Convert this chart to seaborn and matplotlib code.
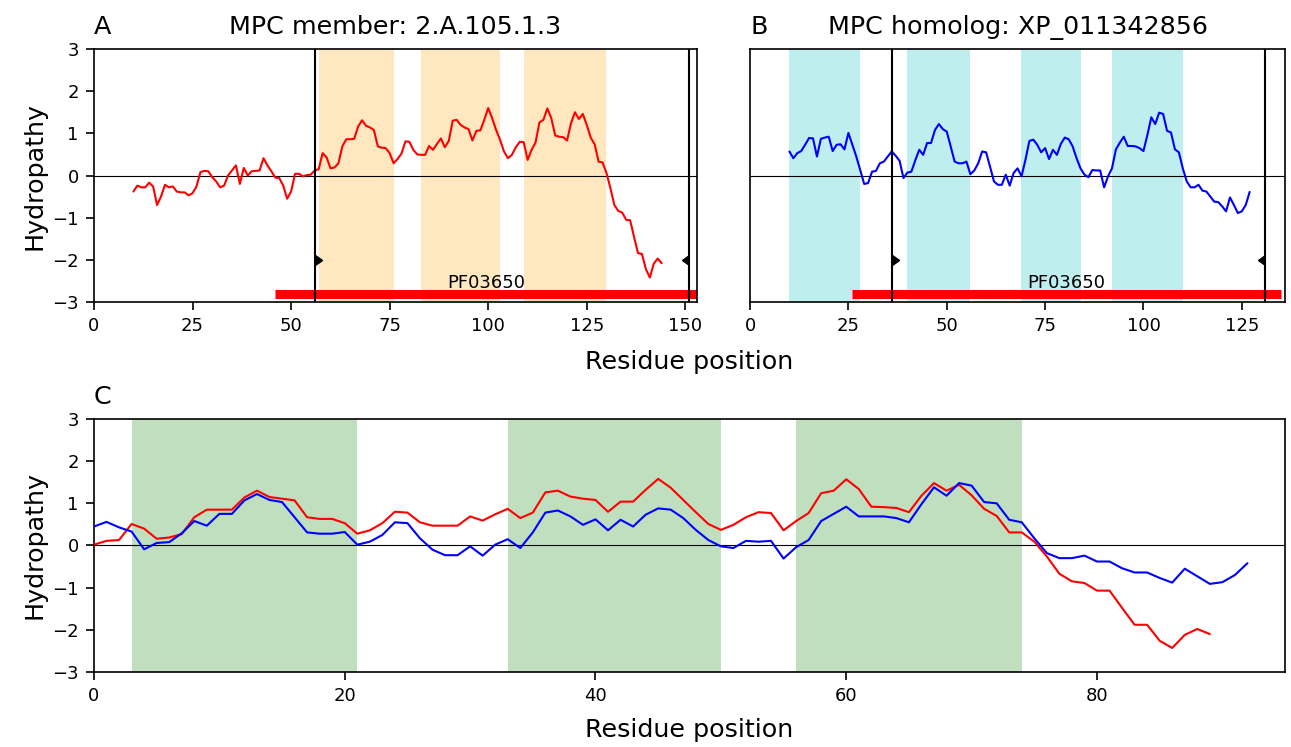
import numpy as np
import seaborn as sns
import matplotlib
matplotlib.use('Agg')
import matplotlib.pyplot as plt

# hydropathy profile, MPC member 2.A.105.1.3 (residues 10..144)
startA = 10
hydroA = [-0.38, -0.24, -0.28, -0.28, -0.17, -0.26, -0.70, -0.50, -0.22, -0.28,
          -0.26, -0.38, -0.40, -0.40, -0.47, -0.42, -0.26, 0.08, 0.11, 0.10,
          -0.04, -0.14, -0.28, -0.24, 0.00, 0.12, 0.24, -0.20, 0.18, 0.00,
          0.10, 0.11, 0.12, 0.41, 0.24, 0.10, -0.05, -0.06, -0.24, -0.55,
          -0.38, 0.04, 0.04, -0.02, 0.01, 0.02, 0.12, 0.15, 0.53, 0.43,
          0.17, 0.19, 0.29, 0.69, 0.86, 0.86, 0.87, 1.16, 1.31, 1.18,
          1.14, 1.08, 0.69, 0.66, 0.65, 0.53, 0.29, 0.39, 0.52, 0.81,
          0.80, 0.61, 0.50, 0.49, 0.49, 0.70, 0.61, 0.75, 0.88, 0.67,
          0.82, 1.30, 1.32, 1.20, 1.14, 1.10, 0.83, 1.06, 1.07, 1.32,
          1.60, 1.36, 1.08, 0.85, 0.57, 0.41, 0.49, 0.67, 0.80, 0.79,
          0.37, 0.61, 0.78, 1.26, 1.32, 1.59, 1.36, 0.95, 0.92, 0.91,
          0.83, 1.24, 1.50, 1.34, 1.46, 1.20, 0.90, 0.74, 0.33, 0.31,
          0.06, -0.30, -0.70, -0.84, -0.88, -1.05, -1.06, -1.46, -1.84, -1.86,
          -2.22, -2.42, -2.09, -1.97, -2.08]

# hydropathy profile, MPC homolog XP_011342856 (residues 10..127)
startB = 10
hydroB = [0.57, 0.41, 0.53, 0.58, 0.73, 0.89, 0.88, 0.45, 0.87, 0.90,
          0.92, 0.58, 0.73, 0.74, 0.62, 1.01, 0.73, 0.45, 0.13, -0.20,
          -0.18, 0.09, 0.11, 0.29, 0.33, 0.45, 0.57, 0.47, 0.35, -0.06,
          0.07, 0.09, 0.36, 0.61, 0.49, 0.77, 0.77, 1.08, 1.22, 1.10,
          1.04, 0.69, 0.33, 0.29, 0.29, 0.33, 0.03, 0.12, 0.29, 0.57,
          0.55, 0.21, -0.14, -0.22, -0.22, 0.02, -0.24, 0.06, 0.17, -0.02,
          0.37, 0.82, 0.85, 0.73, 0.55, 0.65, 0.39, 0.61, 0.49, 0.75,
          0.90, 0.86, 0.69, 0.41, 0.17, 0.02, -0.04, 0.13, 0.12, 0.12,
          -0.28, -0.02, 0.17, 0.62, 0.78, 0.92, 0.70, 0.70, 0.69, 0.65,
          0.58, 0.96, 1.38, 1.22, 1.49, 1.46, 1.06, 1.02, 0.62, 0.55,
          0.17, -0.14, -0.28, -0.28, -0.22, -0.36, -0.38, -0.50, -0.62, -0.63,
          -0.73, -0.85, -0.52, -0.70, -0.89, -0.85, -0.70, -0.39]

# aligned profiles (panel C), starting at position 0
alnA = [0.02, 0.11, 0.13, 0.51, 0.40, 0.16, 0.19, 0.27, 0.67, 0.85,
        0.85, 0.85, 1.14, 1.30, 1.15, 1.11, 1.07, 0.67, 0.63, 0.63,
        0.53, 0.28, 0.36, 0.53, 0.80, 0.78, 0.55, 0.47, 0.47, 0.47,
        0.69, 0.59, 0.74, 0.87, 0.65, 0.78, 1.26, 1.30, 1.16, 1.11,
        1.08, 0.80, 1.04, 1.04, 1.32, 1.58, 1.37, 1.08, 0.79, 0.51,
        0.37, 0.49, 0.67, 0.79, 0.77, 0.36, 0.58, 0.77, 1.24, 1.30,
        1.57, 1.34, 0.92, 0.91, 0.89, 0.79, 1.18, 1.48, 1.30, 1.44,
        1.19, 0.87, 0.70, 0.31, 0.31, 0.09, -0.26, -0.67, -0.85, -0.89,
        -1.07, -1.07, -1.48, -1.88, -1.88, -2.26, -2.43, -2.12, -1.98, -2.10]
alnB = [0.45, 0.56, 0.43, 0.33, -0.09, 0.06, 0.08, 0.29, 0.58, 0.47,
        0.75, 0.75, 1.07, 1.22, 1.08, 1.03, 0.67, 0.31, 0.28, 0.28,
        0.32, 0.02, 0.09, 0.25, 0.55, 0.53, 0.17, -0.10, -0.23, -0.23,
        -0.02, -0.24, 0.02, 0.15, -0.06, 0.31, 0.78, 0.83, 0.69, 0.49,
        0.62, 0.36, 0.61, 0.45, 0.73, 0.88, 0.85, 0.65, 0.37, 0.13,
        -0.02, -0.06, 0.11, 0.09, 0.11, -0.31, -0.04, 0.13, 0.58, 0.75,
        0.92, 0.69, 0.69, 0.69, 0.65, 0.55, 0.98, 1.38, 1.18, 1.48,
        1.42, 1.03, 1.00, 0.61, 0.55, 0.17, -0.18, -0.30, -0.30, -0.24,
        -0.38, -0.38, -0.54, -0.64, -0.64, -0.77, -0.88, -0.55, -0.73, -0.91,
        -0.87, -0.70, -0.42]

tmsA = [[57, 76], [83, 103], [109, 130]]
tmsB = [[10, 28], [40, 56], [69, 84], [92, 110]]
tmsAln = [[3, 21], [33, 50], [56, 74]]
pfamA = [46, 153]
pfamB = [26, 135]
cutA = [56, 151]
cutB = [36, 131]
lenA = 153
lenB = 136
lenAln = 95
pfamName = 'PF03650'

sns.set_style('ticks', {'axes.edgecolor': 'k', 'xtick.color': 'k', 'ytick.color': 'k',
                        'text.color': 'k', 'axes.labelcolor': 'k'})
plt.rcParams.update({'xtick.labelsize': 13, 'ytick.labelsize': 13,
                     'axes.labelsize': 18.3, 'axes.titlesize': 18.3,
                     'axes.linewidth': 1.2, 'xtick.major.width': 1.2,
                     'ytick.major.width': 1.2, 'xtick.major.size': 6,
                     'ytick.major.size': 6, 'xtick.major.pad': 5,
                     'ytick.major.pad': 5, 'axes.titlepad': 11})


def shade(ax, spans, color):
    for s, e in spans:
        ax.axvspan(s, e, color=color, alpha=0.25, lw=0, zorder=0)


def profile(ax, start, vals, color):
    x = np.arange(start, start + len(vals))
    sns.lineplot(x=x, y=vals, color=color, lw=1.5, estimator=None, ax=ax, zorder=3)


def domain(ax, pfam, cut):
    ax.plot(pfam, [-2.8, -2.8], color='r', lw=6.5, solid_capstyle='butt', zorder=2)
    ax.text(np.mean(pfam), -2.76, pfamName, ha='center', va='bottom', fontsize=13)
    for c in cut:
        ax.axvline(c, color='k', lw=1.5, zorder=4)
    ax.plot(cut[0], -2, marker=9, color='k', ms=7, zorder=5)
    ax.plot(cut[1], -2, marker=8, color='k', ms=7, zorder=5)


fig = plt.figure(figsize=(12.91, 7.47), dpi=100)
axA = fig.add_axes([0.0728, 0.5957, 0.4672, 0.3387])
axB = fig.add_axes([0.5810, 0.5957, 0.4144, 0.3387])
axC = fig.add_axes([0.0728, 0.1004, 0.9226, 0.3387])

shade(axA, tmsA, 'orange')
profile(axA, startA, hydroA, 'r')
domain(axA, pfamA, cutA)
axA.set_xlim(0, lenA)
axA.set_xticks(np.arange(0, 151, 25))
axA.set_ylabel('Hydropathy')
axA.set_title('A', loc='left')
axA.set_title('MPC member: 2.A.105.1.3')

shade(axB, tmsB, 'c')
profile(axB, startB, hydroB, 'b')
domain(axB, pfamB, cutB)
axB.set_xlim(0, lenB)
axB.set_xticks(np.arange(0, 126, 25))
axB.tick_params(axis='y', left=False, labelleft=False)
axB.set_title('B', loc='left')
axB.set_title('MPC homolog: XP_011342856')

shade(axC, tmsAln, 'g')
profile(axC, 0, alnA, 'r')
profile(axC, 0, alnB, 'b')
axC.set_xlim(0, lenAln)
axC.set_xticks(np.arange(0, 81, 20))
axC.set_ylabel('Hydropathy')
axC.set_title('C', loc='left')

for ax in [axA, axB, axC]:
    ax.axhline(0, color='k', lw=0.8, zorder=1)
    ax.set_ylim(-3, 3)
    ax.set_yticks(np.arange(-3, 4))
    ax.set_xlabel('')

fig.text(0.534, 0.515, 'Residue position', ha='center', va='center', fontsize=18.3)
fig.text(0.534, 0.023, 'Residue position', ha='center', va='center', fontsize=18.3)

fig.savefig('out.png', dpi=100)
